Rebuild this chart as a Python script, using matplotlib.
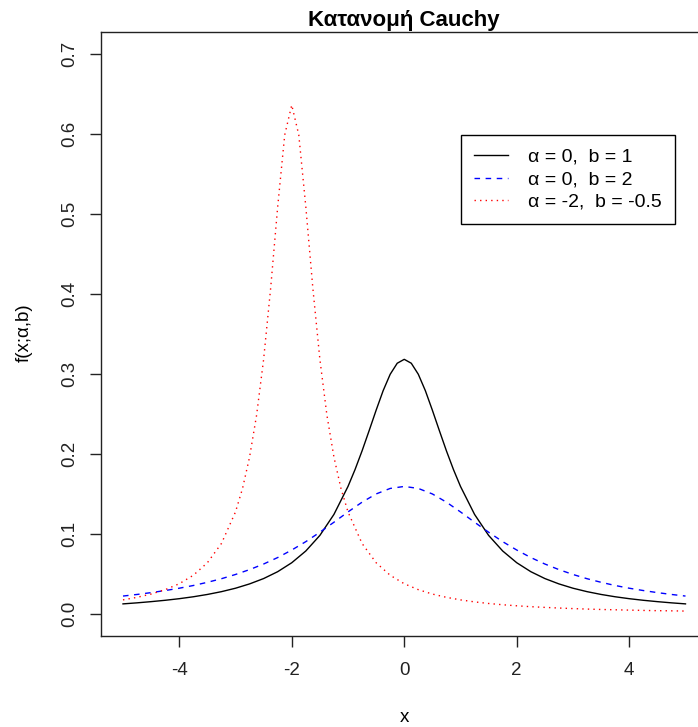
import matplotlib
matplotlib.use('Agg')
import matplotlib.pyplot as plt

plt.rcParams['font.family'] = ['Liberation Sans', 'DejaVu Sans']

# σημεία των καμπυλών (διαβασμένα από την εικόνα)
x_black = [-5, -4.75, -4.5, -4.25, -4, -3.75, -3.5, -3.25, -3, -2.75, -2.5, -2.25, -2,
           -1.75, -1.5, -1.25, -1, -0.875, -0.75, -0.625, -0.5, -0.375, -0.25, -0.125,
           0, 0.125, 0.25, 0.375, 0.5, 0.625, 0.75, 0.875, 1, 1.25, 1.5, 1.75, 2,
           2.25, 2.5, 2.75, 3, 3.25, 3.5, 3.75, 4, 4.25, 4.5, 4.75, 5]

y_a0_b1 = [0.0122, 0.0135, 0.0150, 0.0167, 0.0187, 0.0211, 0.0240, 0.0275, 0.0318,
           0.0372, 0.0439, 0.0525, 0.0637, 0.0784, 0.0979, 0.1242, 0.1592, 0.1803,
           0.2037, 0.2289, 0.2546, 0.2791, 0.2996, 0.3134, 0.3183, 0.3134, 0.2996,
           0.2791, 0.2546, 0.2289, 0.2037, 0.1803, 0.1592, 0.1242, 0.0979, 0.0784,
           0.0637, 0.0525, 0.0439, 0.0372, 0.0318, 0.0275, 0.0240, 0.0211, 0.0187,
           0.0167, 0.0150, 0.0135, 0.0122]

x_blue = [-5, -4.75, -4.5, -4.25, -4, -3.75, -3.5, -3.25, -3, -2.75, -2.5, -2.25, -2,
          -1.75, -1.5, -1.25, -1, -0.75, -0.5, -0.25, 0, 0.25, 0.5, 0.75, 1, 1.25,
          1.5, 1.75, 2, 2.25, 2.5, 2.75, 3, 3.25, 3.5, 3.75, 4, 4.25, 4.5, 4.75, 5]

y_a0_b2 = [0.0220, 0.0240, 0.0263, 0.0289, 0.0318, 0.0352, 0.0392, 0.0437, 0.0490,
           0.0551, 0.0621, 0.0702, 0.0796, 0.0901, 0.1019, 0.1144, 0.1273, 0.1395,
           0.1498, 0.1567, 0.1592, 0.1567, 0.1498, 0.1395, 0.1273, 0.1144, 0.1019,
           0.0901, 0.0796, 0.0702, 0.0621, 0.0551, 0.0490, 0.0437, 0.0392, 0.0352,
           0.0318, 0.0289, 0.0263, 0.0240, 0.0220]

x_red = [-5, -4.75, -4.5, -4.25, -4, -3.75, -3.5, -3.25, -3, -2.875, -2.75, -2.625,
         -2.5, -2.375, -2.25, -2.125, -2, -1.875, -1.75, -1.625, -1.5, -1.375,
         -1.25, -1.125, -1, -0.75, -0.5, -0.25, 0, 0.25, 0.5, 0.75, 1, 1.25, 1.5,
         1.75, 2, 2.25, 2.5, 2.75, 3, 3.25, 3.5, 3.75, 4, 4.25, 4.5, 4.75, 5]

y_red = [0.0172, 0.0204, 0.0245, 0.0300, 0.0374, 0.0480, 0.0637, 0.0878, 0.1273,
         0.1567, 0.1959, 0.2484, 0.3183, 0.4074, 0.5093, 0.5992, 0.6366, 0.5992,
         0.5093, 0.4074, 0.3183, 0.2484, 0.1959, 0.1567, 0.1273, 0.0878, 0.0637,
         0.0480, 0.0374, 0.0300, 0.0245, 0.0204, 0.0172, 0.0147, 0.0127, 0.0111,
         0.0098, 0.0087, 0.0078, 0.0070, 0.0063, 0.0057, 0.0052, 0.0048, 0.0044,
         0.0040, 0.0037, 0.0035, 0.0032]

labels = ['α = 0,  b = 1', 'α = 0,  b = 2', 'α = -2,  b = -0.5']
xticks = [-4, -2, 0, 2, 4]
yticks = [0.0, 0.1, 0.2, 0.3, 0.4, 0.5, 0.6, 0.7]

W, H = 698, 727
fig = plt.figure(figsize=(W / 100, H / 100), dpi=100)
# το πλαίσιο βγαίνει λίγο έξω από τη δεξιά άκρη, όπως στο πρωτότυπο
left, right, top, bottom = 100.5, 708, 32, 636
ax = fig.add_axes([left / W, 1 - bottom / H, (right - left) / W, (bottom - top) / H])

ax.plot(x_black, y_a0_b1, color='black', lw=1.0, label=labels[0])
ax.plot(x_blue, y_a0_b2, color='blue', lw=1.0, linestyle=(0, (4, 4)), label=labels[1])
ax.plot(x_red, y_red, color='red', lw=1.0, linestyle=(0, (1, 3)), label=labels[2])

ax.set_xlim(-5.4, 5.4)
ax.set_ylim(-0.028, 0.728)
ax.set_xticks(xticks)
ax.set_xticklabels([str(t) for t in xticks])
ax.set_yticks(yticks)
ax.set_yticklabels(['%.1f' % t for t in yticks], rotation=90, va='center')
ax.tick_params(axis='both', direction='out', length=8, width=1, labelsize=13.5,
               colors='#222222')
ax.tick_params(axis='x', pad=11)
ax.tick_params(axis='y', pad=8)
for s in ax.spines.values():
    s.set_linewidth(1)
    s.set_color('#222222')

ax.set_title('Κατανομή Cauchy', fontsize=16, fontweight='bold', pad=4)
fig.text(404 / W, 1 - 717 / H, 'x', fontsize=13.5, ha='center', va='center')
fig.text(24 / W, 1 - 333 / H, 'f(x;α,b)', fontsize=13.5, ha='center', va='center',
         rotation=90)

leg = ax.legend(loc='upper left', bbox_to_anchor=(460.7 / W, 1 - 135 / H),
                bbox_transform=fig.transFigure, borderaxespad=0, fontsize=14,
                frameon=True, fancybox=False, edgecolor='black', framealpha=1,
                handlelength=1.75, handletextpad=1.03, borderpad=0.67,
                labelspacing=0.26)
leg.get_frame().set_linewidth(1)

fig.savefig('out.png', dpi=100)
